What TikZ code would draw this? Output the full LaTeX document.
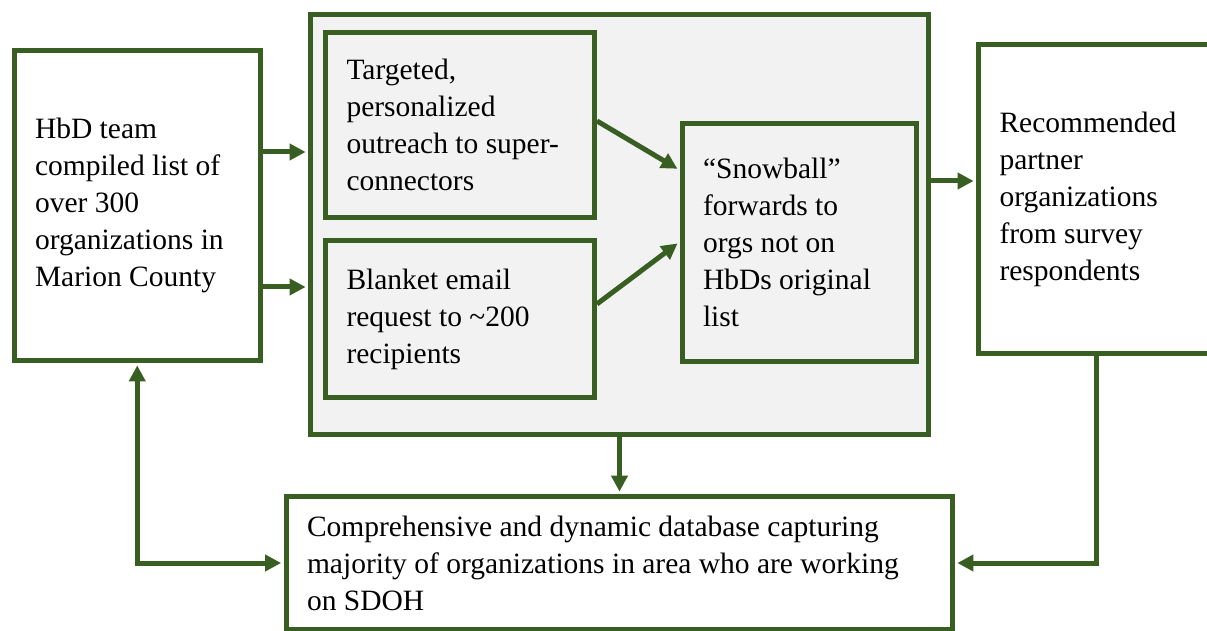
\documentclass[tikz,border=0pt]{standalone}
\usepackage{fontspec}
\setmainfont{Liberation Serif}
\usetikzlibrary{arrows.meta}
\definecolor{leaf}{RGB}{56,94,33}
\definecolor{pane}{RGB}{242,242,242}

\begin{document}
\begin{tikzpicture}[x=0.5pt,y=-0.5pt,
  every node/.style={font=\fontsize{14.75}{18.5}\selectfont},
  box/.style={draw=leaf,line width=2.5pt,rectangle,inner xsep=10.5pt,inner ysep=0pt,align=flush left},
  tip/.tip={Triangle[length=8pt,width=8pt]},
  arr/.style={draw=leaf,line width=2.5pt,-tip,shorten >=1.2pt}]

	\useasboundingbox (0,0) rectangle (1207,631);

	\node[box,fill=pane,minimum width=309pt,minimum height=210pt] (group) at (619.5,224.5) {};

	\node[box,minimum width=123.25pt,minimum height=154.75pt,text width=102.25pt] (hbd) at (137.25,205.75)
		{HbD team\\compiled list of\\over 300\\organizations in\\Marion County};
	\node[box,fill=pane,minimum width=134.5pt,minimum height=92.5pt,text width=113.5pt] (targeted) at (460,125)
		{Targeted,\\personalized\\outreach to super-\\connectors};
	\node[box,fill=pane,minimum width=134.5pt,minimum height=78.5pt,text width=113.5pt] (blanket) at (460,319)
		{Blanket email\\request to \textasciitilde200\\recipients};
	\node[box,fill=pane,minimum width=117pt,minimum height=119.25pt,text width=96pt] (snowball) at (799,242.75)
		{“Snowball”\\forwards to\\orgs not on\\HbDs original\\list};
	\node[box,minimum width=123.25pt,minimum height=154.75pt,text width=102.25pt] (recommended) at (1101.75,199.25)
		{Recommended\\partner\\organizations\\from survey\\respondents};
	\node[box,minimum width=333.25pt,minimum height=66.5pt,text width=312.25pt] (database) at (619.25,563)
		{Comprehensive and dynamic database capturing\\majority of organizations in area who are working\\on SDOH};

	% connectors
	\draw[arr] (hbd.east |- 0,152) -- (group.west |- 0,152);
	\draw[arr] (hbd.east |- 0,287) -- (group.west |- 0,287);
	\draw[arr] (targeted.east |- 0,121) -- (snowball.west |- 0,170);
	\draw[arr] (blanket.east |- 0,304) -- (snowball.west |- 0,242);
	\draw[arr] (group.east |- 0,181) -- (recommended.west |- 0,181);
	\draw[arr] (group.south) -- (group.south |- database.north);
	\draw[arr,tip-tip,shorten <=1.2pt] (hbd.south) |- (database.west);
	\draw[arr] (recommended.south -| 1096,0) |- (database.east);

\end{tikzpicture}
\end{document}
